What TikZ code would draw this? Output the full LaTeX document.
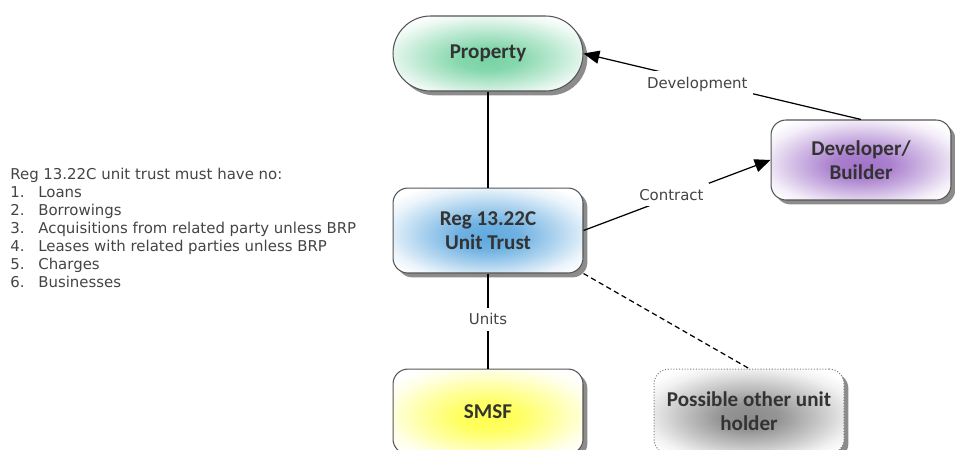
\documentclass[tikz,border=0pt]{standalone}
\usepackage{fontspec}
\setmainfont{DejaVu Sans}
\newfontfamily\boxfont{Carlito}
\usepackage{tikz}
\usetikzlibrary{arrows.meta, positioning, shadows, calc}
\definecolor{boxstroke}{HTML}{555555}
\definecolor{boxtext}{HTML}{333333}
\definecolor{notetext}{HTML}{444444}
\definecolor{propfill}{HTML}{78D3A4}
\definecolor{trustfill}{HTML}{5FA9DF}
\definecolor{smsffill}{HTML}{FFFF50}
\definecolor{otherfill}{HTML}{8A8A8A}
\definecolor{devfill}{HTML}{A172C9}
\newcommand{\itemrow}[2]{\makebox[0.56cm][l]{#1}#2}
% soft glow behind the box text
\newcommand{\glowshading}[2]{%
    \pgfdeclareradialshading{#1}{\pgfpoint{0bp}{-4bp}}{%
        color(0bp)=(#2); color(8bp)=(#2!90!white); color(18bp)=(#2!50!white);
        color(27bp)=(#2!12!white); color(32bp)=(white); color(50bp)=(white)}}
\glowshading{propglow}{propfill}
\glowshading{trustglow}{trustfill}
\glowshading{smsfglow}{smsffill}
\glowshading{otherglow}{otherfill}
\glowshading{devglow}{devfill}

\begin{document}
\begin{tikzpicture}[
        x=0.02cm, y=-0.02cm,
        box/.style={
            rectangle,
            rounded corners=0.3cm,
            minimum width=3.8cm,
            minimum height=1.7cm,
            draw=boxstroke,
            line width=0.6pt,
            align=center,
            text=boxtext,
            font=\boxfont\bfseries\fontsize{12}{13.7}\selectfont,
            drop shadow={shadow xshift=2.5pt, shadow yshift=-2.5pt, opacity=0.6, fill=black!75}
        },
        note/.style={text=notetext, font=\fontsize{8.5}{10.24}\selectfont},
        line/.style={draw=black, line width=0.7pt},
        arrow/.style={line, -{Triangle[length=9pt, width=7.5pt]}}
    ]
        \useasboundingbox (0,0) rectangle (955,449);

        % Nodes
        \node[box, shading=propglow, rounded corners=0.75cm, minimum height=1.5cm]
            (property) at (488,53.5) {Property};
        \node[box, shading=trustglow, below=1.92cm of property] (trust) {Reg 13.22C\\Unit Trust};
        \node[box, shading=smsfglow, below=1.9cm of trust] (smsf) {SMSF};
        \node[box, shading=otherglow, draw=gray, densely dotted, right=1.4cm of smsf]
            (other) {Possible other unit\\holder};
        \node[box, shading=devglow, minimum width=3.6cm, minimum height=1.6cm]
            (developer) at (861,160) {Developer/\\Builder};

        % Notes
        \node[note, anchor=north west, align=left, inner sep=0pt] (rules) at (10,168) {%
            Reg 13.22C unit trust must have no:\\
            \itemrow{1.}{Loans}\\
            \itemrow{2.}{Borrowings}\\
            \itemrow{3.}{Acquisitions from related party unless BRP}\\
            \itemrow{4.}{Leases with related parties unless BRP}\\
            \itemrow{5.}{Charges}\\
            \itemrow{6.}{Businesses}};

        % Arrows
        \draw[line] (property.south) -- (trust.north);
        \draw[line] (trust.south) -- node[note, fill=white, yshift=1pt] {Units} (smsf.north);
        \draw[arrow] (trust.east) -- node[note, fill=white, pos=0.47, yshift=1.5pt] {Contract} (developer.west);
        \draw[arrow] (developer.north) -- node[note, fill=white, pos=0.59, yshift=-2pt] {Development} (property.east);
        \draw[line, densely dashed] (trust.south east) -- (other.north);

    \end{tikzpicture}
\end{document}
